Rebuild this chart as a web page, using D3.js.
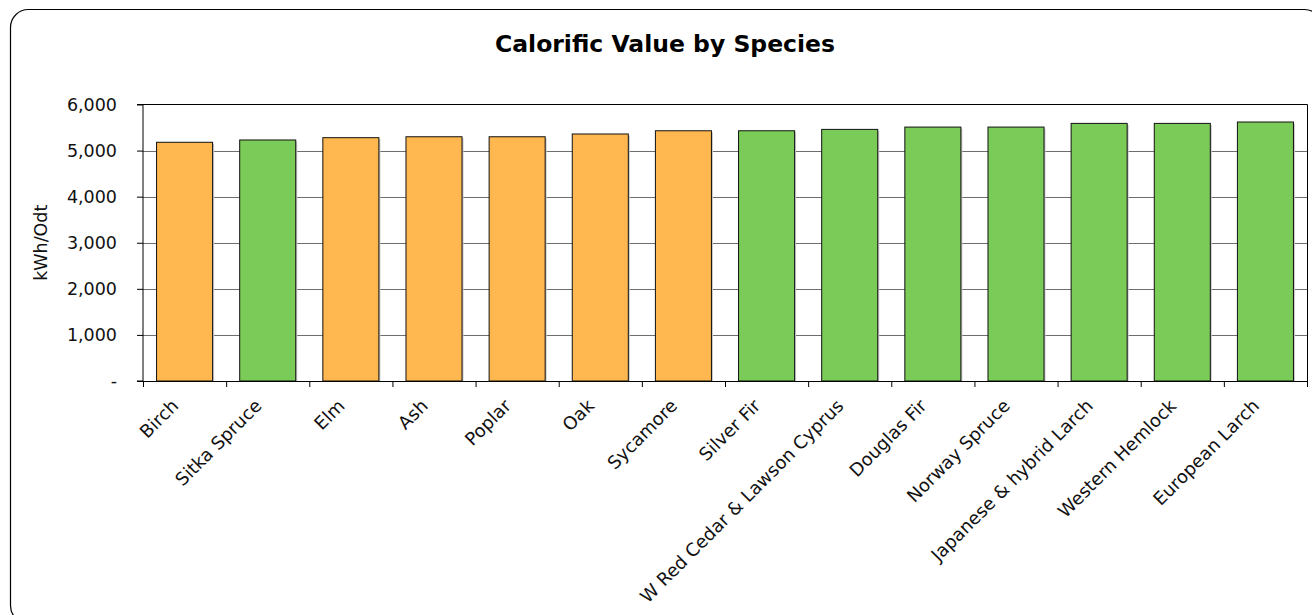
<!DOCTYPE html>
<html>
<head>
<meta charset="utf-8">
<script src="https://cdn.jsdelivr.net/npm/d3@7"></script>
<style>
  html, body { margin: 0; padding: 0; background: #fff; }
  svg { display: block; font-family: "DejaVu Sans", Verdana, sans-serif; }
</style>
</head>
<body>
<svg id="chart" width="1312" height="615"></svg>
<script>
// Species ordered by calorific value (kWh per oven-dry tonne)
const species = ["Birch", "Sitka Spruce", "Elm", "Ash", "Poplar", "Oak", "Sycamore",
  "Silver Fir", "W Red Cedar & Lawson Cyprus", "Douglas Fir", "Norway Spruce",
  "Japanese & hybrid Larch", "Western Hemlock", "European Larch"];
const calorific = [5180, 5230, 5280, 5300, 5300, 5360, 5430,
  5430, 5460, 5510, 5510, 5590, 5590, 5620];
// Wood type: hardwood or softwood
const woodType = ["hard", "soft", "hard", "hard", "hard", "hard", "hard",
  "soft", "soft", "soft", "soft", "soft", "soft", "soft"];
const yTicks = [0, 1000, 2000, 3000, 4000, 5000, 6000];

const colors = { hard: "#FFB74F", soft: "#7BCB58" };

const svg = d3.select("#chart");
const plot = { left: 143, right: 1307, top: 104.5, bottom: 381 };

// outer rounded frame
svg.append("rect")
  .attr("x", 10.5).attr("y", 9.5)
  .attr("width", 1312).attr("height", 614)
  .attr("rx", 18).attr("ry", 18)
  .attr("fill", "#fff").attr("stroke", "#000").attr("stroke-width", 1.2);

svg.append("text")
  .attr("x", 665).attr("y", 52)
  .attr("text-anchor", "middle")
  .attr("font-size", 23.5).attr("font-weight", "bold")
  .text("Calorific Value by Species");

const x = d3.scaleBand()
  .domain(species)
  .range([plot.left, plot.right])
  .paddingInner(0.326)
  .paddingOuter(0.163);

const y = d3.scaleLinear()
  .domain([0, 6000])
  .range([plot.bottom, plot.top]);

// gridlines
svg.append("g")
  .selectAll("line")
  .data(yTicks.filter(d => d > 0 && d < 6000))
  .join("line")
  .attr("x1", plot.left).attr("x2", plot.right)
  .attr("y1", d => Math.round(y(d)) + 0.5).attr("y2", d => Math.round(y(d)) + 0.5)
  .attr("stroke", "#6e6e6e").attr("stroke-width", 1);

// plot frame (top and right)
svg.append("path")
  .attr("d", `M${plot.left},${plot.top}H${plot.right + 0.5}V${plot.bottom}`)
  .attr("fill", "none").attr("stroke", "#000").attr("stroke-width", 1);

// bar shadows
svg.append("g")
  .selectAll("rect")
  .data(species)
  .join("rect")
  .attr("x", d => x(d) + 1.5)
  .attr("y", (d, i) => y(calorific[i]) + 1.5)
  .attr("width", x.bandwidth())
  .attr("height", (d, i) => y(0) - y(calorific[i]) - 1.5)
  .attr("fill", "#c8c8c8");

// bars
svg.append("g")
  .selectAll("rect")
  .data(species)
  .join("rect")
  .attr("x", d => x(d))
  .attr("y", (d, i) => y(calorific[i]))
  .attr("width", x.bandwidth())
  .attr("height", (d, i) => y(0) - y(calorific[i]))
  .attr("fill", (d, i) => colors[woodType[i]])
  .attr("stroke", "#111").attr("stroke-width", 1);

// y axis
const yAxis = svg.append("g")
  .attr("transform", `translate(${plot.left},0)`)
  .call(d3.axisLeft(y)
    .tickValues(yTicks)
    .tickSize(6)
    .tickPadding(20)
    .tickFormat(d => d === 0 ? "-" : d3.format(",")(d)));
yAxis.selectAll("text").attr("font-size", 17.5).attr("fill", "#111")
  .attr("font-family", "DejaVu Sans, Verdana, sans-serif");
yAxis.selectAll("line, path").attr("stroke", "#000");
yAxis.select(".domain").attr("d", `M-6,${plot.bottom}H0V${plot.top}H-6`);

// x axis: ticks at category boundaries
const xg = svg.append("g");
xg.append("line")
  .attr("x1", plot.left).attr("x2", plot.right + 0.5)
  .attr("y1", plot.bottom + 0.5).attr("y2", plot.bottom + 0.5)
  .attr("stroke", "#000");
const step = x.step();
xg.selectAll("line.tick")
  .data(d3.range(species.length + 1))
  .join("line")
  .attr("class", "tick")
  .attr("x1", i => plot.left + i * step + 0.5)
  .attr("x2", i => plot.left + i * step + 0.5)
  .attr("y1", plot.bottom).attr("y2", plot.bottom + 6)
  .attr("stroke", "#000");

xg.selectAll("text")
  .data(species)
  .join("text")
  .attr("transform", d => `translate(${x(d) + x.bandwidth() / 2 - 5},${plot.bottom + 26}) rotate(-45)`)
  .attr("text-anchor", "end")
  .attr("font-size", 18)
  .attr("fill", "#111")
  .text(d => d);

// y axis title
svg.append("text")
  .attr("transform", `translate(47,${(plot.top + plot.bottom) / 2}) rotate(-90)`)
  .attr("text-anchor", "middle")
  .attr("font-size", 17.5)
  .attr("fill", "#111")
  .text("kWh/Odt");
</script>
</body>
</html>
